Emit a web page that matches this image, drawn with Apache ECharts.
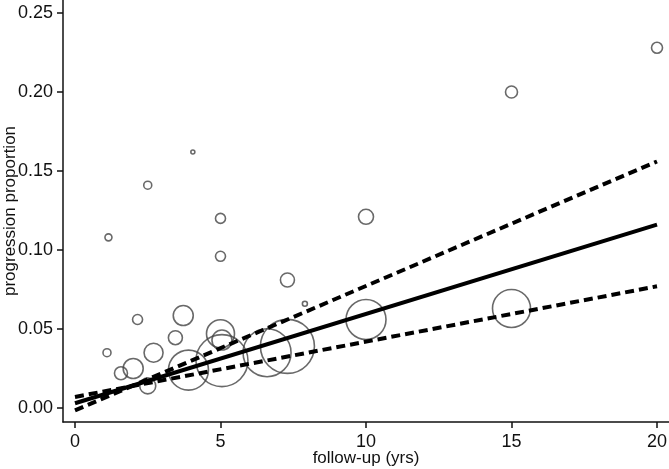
<!DOCTYPE html>
<html>
<head>
<meta charset="utf-8">
<script src="https://cdn.jsdelivr.net/npm/echarts@6/dist/echarts.min.js"></script>
<style>
  html, body { margin: 0; padding: 0; background: #fff; }
  #chart { width: 669px; height: 469px; }
</style>
</head>
<body>
<div id="chart"></div>
<script>
// study points: follow-up (yrs), progression proportion, weight (circle radius)
const followUp = [1.15, 2.5, 4.05, 5.0, 5.0, 7.3, 10.0, 15.0, 20.0,
  1.1, 2.15, 3.45, 3.72, 2.7, 2.0, 1.58, 2.5, 3.9,
  5.0, 5.05, 5.05, 6.6, 7.3, 7.9, 10.0, 15.0]
const proportion = [0.108, 0.141, 0.162, 0.120, 0.096, 0.081, 0.121, 0.200, 0.228,
  0.035, 0.056, 0.0445, 0.0585, 0.035, 0.025, 0.022, 0.014, 0.024,
  0.047, 0.043, 0.030, 0.035, 0.039, 0.066, 0.056, 0.063]
const weight = [3.5, 4, 2, 5, 5, 7, 7.5, 6, 5.5,
  4, 5, 7, 10, 9.5, 10, 6.5, 8, 20,
  14, 10, 26, 24, 27, 2.5, 20, 19]

// regression fit and confidence bounds at x = 0 and x = 20
const lineX = [0, 20]
const fitY = [0.003, 0.116]
const upperY = [-0.0015, 0.156]
const lowerY = [0.007, 0.077]

// tick labels
const xTickValues = [0, 5, 10, 15, 20]
const yTickValues = [0, 0.05, 0.1, 0.15, 0.2, 0.25]

const pairs = (xs, ys) => xs.map((x, i) => [x, ys[i]])

const chart = echarts.init(document.getElementById('chart'))

const font = 'Liberation Sans, Arial, sans-serif'
const axisColor = '#111'

chart.setOption({
  animation: false,
  grid: { left: 63, right: 0, top: 0, bottom: 47, outerBoundsMode: 'none', containLabel: false },
  xAxis: {
    type: 'value',
    // axis runs a little beyond 0 and 20, as in the original plot
    min: -0.412,
    max: 20.412,
    name: 'follow-up (yrs)',
    nameLocation: 'middle',
    nameGap: 28,
    nameMoveOverlap: false,
    nameTextStyle: { fontSize: 17, color: '#111', fontFamily: font },
    axisLine: { show: true, onZero: false, lineStyle: { color: axisColor, width: 1.5 } },
    axisTick: {
      show: true,
      length: 6,
      customValues: xTickValues,
      lineStyle: { color: axisColor, width: 1.5 },
    },
    axisLabel: {
      margin: 11,
      fontSize: 18,
      color: '#111',
      fontFamily: font,
      customValues: xTickValues,
    },
    splitLine: { show: false },
  },
  yAxis: {
    type: 'value',
    min: -0.00886,
    max: 0.2582,
    name: 'progression proportion',
    nameLocation: 'middle',
    nameGap: 44,
    nameMoveOverlap: false,
    nameTextStyle: { fontSize: 17, color: '#111', fontFamily: font },
    axisLine: { show: true, onZero: false, lineStyle: { color: axisColor, width: 1.5 } },
    axisTick: {
      show: true,
      length: 6,
      customValues: yTickValues,
      lineStyle: { color: axisColor, width: 1.5 },
    },
    axisLabel: {
      margin: 10,
      fontSize: 18,
      color: '#111',
      fontFamily: font,
      customValues: yTickValues,
      formatter: v => v.toFixed(2),
    },
    splitLine: { show: false },
  },
  series: [
    {
      type: 'scatter',
      data: followUp.map((x, i) => [x, proportion[i], weight[i]]),
      symbol: 'circle',
      symbolSize: d => d[2] * 2,
      clip: false,
      silent: true,
      itemStyle: { color: 'rgba(0,0,0,0)', borderColor: '#444', borderWidth: 1.6 },
      z: 2,
    },
    {
      type: 'line',
      data: pairs(lineX, fitY),
      symbol: 'none',
      clip: false,
      silent: true,
      lineStyle: { color: '#000', width: 4 },
      z: 3,
    },
    {
      type: 'line',
      data: pairs(lineX, upperY),
      symbol: 'none',
      clip: false,
      silent: true,
      lineStyle: { color: '#000', width: 4, type: [9, 5] },
      z: 3,
    },
    {
      type: 'line',
      data: pairs(lineX, lowerY),
      symbol: 'none',
      clip: false,
      silent: true,
      lineStyle: { color: '#000', width: 4, type: [9, 5] },
      z: 3,
    },
  ],
})
</script>
</body>
</html>
